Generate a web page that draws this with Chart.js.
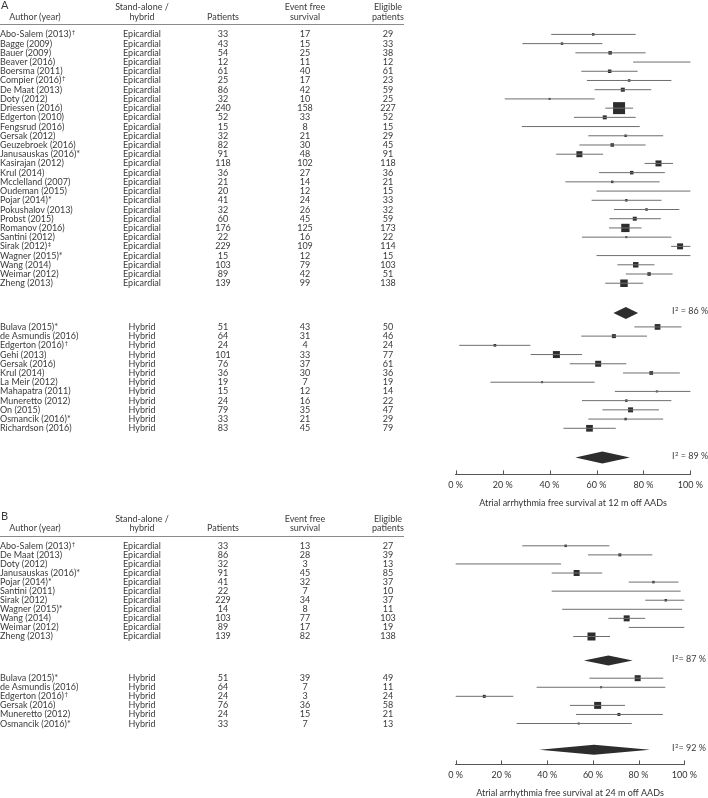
<!DOCTYPE html>
<html><head><meta charset="utf-8">
<script src="https://cdn.jsdelivr.net/npm/chart.js@4.4.1/dist/chart.umd.min.js"></script>
<style>
html,body{margin:0;padding:0;background:#fff;}
#page{position:relative;width:708px;height:798px;overflow:hidden;font-family:Lato,"Open Sans",sans-serif;color:#3a3a3a;}
.t{position:absolute;font-size:9px;line-height:10px;white-space:nowrap;transform:translateY(-50%);}
.c{transform:translate(-50%,-50%);text-align:center;}
.rule{position:absolute;height:0;border-top:1px solid #8a8a8a;}
.lab{position:absolute;font-size:11px;line-height:12px;transform:translateY(-50%);}
canvas{position:absolute;left:0;}
.sp{font-size:6px;display:inline-block;transform:translateY(-3px);margin-left:0.5px;}
</style></head>
<body><div id="page">
<canvas id="cA" width="708" height="508" style="top:0px"></canvas>
<canvas id="cB" width="708" height="288" style="top:510px"></canvas>
</div>
<script>
// ---------- Panel A: 12 months ----------
const A_epi_authors = ["Abo-Salem (2013)†","Bagge (2009)","Bauer (2009)","Beaver (2016)","Boersma (2011)","Compier (2016)†","De Maat (2013)","Doty (2012)","Driessen (2016)","Edgerton (2010)","Fengsrud (2016)","Gersak (2012)","Geuzebroek (2016)","Janusauskas (2016)*","Kasirajan (2012)","Krul (2014)","Mcclelland (2007)","Oudeman (2015)","Pojar (2014)*","Pokushalov (2013)","Probst (2015)","Romanov (2016)","Santini (2012)","Sirak (2012)‡","Wagner (2015)*","Wang (2014)","Weimar (2012)","Zheng (2013)"];
const A_epi_patients = [33,43,54,12,61,25,86,32,240,52,15,32,82,91,118,36,21,20,41,32,60,176,22,229,15,103,89,139];
const A_epi_events   = [17,15,25,11,40,17,42,10,158,33,8,21,30,48,102,27,14,12,24,26,45,125,16,109,12,79,42,99];
const A_epi_eligible = [29,33,38,12,61,23,59,25,227,52,15,29,45,91,118,36,21,15,33,32,59,173,22,114,15,103,51,138];
const A_epi_est = [58.6,45.3,65.8,91.7,65.6,73.9,71.2,40.0,69.6,63.5,53.3,72.4,66.7,52.7,86.4,75.0,66.7,80.0,72.7,81.3,76.3,72.3,72.7,95.6,80.0,76.7,82.4,71.7];
const A_epi_lo  = [40.7,28.4,51.0,75.6,53.5,55.9,59.2,20.9,63.7,50.4,28.2,56.5,52.7,42.8,80.5,61.1,46.7,60.0,57.9,67.4,65.5,65.3,53.8,91.8,60.0,68.9,72.5,63.7];
const A_epi_hi  = [76.7,62.5,80.9,100,77.5,91.9,83.3,59.2,75.6,76.7,78.4,88.4,80.9,62.8,92.6,89.1,86.9,100,87.7,95.3,87.4,79.2,91.9,100,100,84.7,92.4,79.9];
const A_epi_weight = [2.5,2.5,3.5,0,3.5,2.5,4,2,12,4,0,2.5,3.5,6,6,3.5,2.5,0,2.5,2.5,4,8.3,2,6,0,5.5,3.5,7.5];
const A_epi_pool = [72.5,67.2,77.7]; const A_epi_I2 = 86;

const A_hyb_authors = ["Bulava (2015)*","de Asmundis (2016)","Edgerton (2016)†","Gehi (2013)","Gersak (2016)","Krul (2014)","La Meir (2012)","Mahapatra (2011)","Muneretto (2012)","On (2015)","Osmancik (2016)*","Richardson (2016)"];
const A_hyb_patients = [51,64,24,101,76,36,19,15,24,79,33,83];
const A_hyb_events   = [43,31,4,33,37,30,7,12,16,35,21,45];
const A_hyb_eligible = [50,46,24,77,61,36,19,14,22,47,29,79];
const A_hyb_est = [86.0,67.4,16.7,42.9,60.7,83.3,36.8,85.7,72.7,74.5,72.4,57.0];
const A_hyb_lo  = [76.1,53.5,1.5,31.9,48.6,71.3,14.8,67.8,53.8,62.5,56.5,45.9];
const A_hyb_hi  = [96.2,81.5,31.8,53.8,72.7,95.5,59.2,100,91.9,86.6,88.4,68.2];
const A_hyb_weight = [5.7,4,2.7,7,6,3.7,2,2,2.5,5,2.5,6.7];
const A_hyb_pool = [62.5,51.0,74.2]; const A_hyb_I2 = 89;

// ---------- Panel B: 24 months ----------
const B_epi_authors = ["Abo-Salem (2013)†","De Maat (2013)","Doty (2012)","Janusauskas (2016)*","Pojar (2014)*","Santini (2011)","Sirak (2012)","Wagner (2015)*","Wang (2014)","Weimar (2012)","Zheng (2013)"];
const B_epi_patients = [33,86,32,91,41,22,229,14,103,89,139];
const B_epi_events   = [13,28,3,45,32,7,34,8,77,17,82];
const B_epi_eligible = [27,39,13,85,37,10,37,11,103,19,138];
const B_epi_est = [48.1,71.8,23.1,52.9,86.5,70.0,91.9,72.7,74.8,89.5,59.4];
const B_epi_lo  = [29.1,57.9,0,42.0,75.7,42.0,82.9,46.6,66.8,75.7,51.4];
const B_epi_hi  = [67.2,86.0,46.1,64.1,97.5,98.4,100,99.0,82.9,100,67.5];
const B_epi_weight = [2.5,3,0,6,2.5,0,2.5,0,6,0,8];
const B_epi_pool = [66.8,56.1,77.4]; const B_epi_I2 = 87;

const B_hyb_authors = ["Bulava (2015)*","de Asmundis (2016)","Edgerton (2016)†","Gersak (2016)","Muneretto (2012)","Osmancik (2016)*"];
const B_hyb_patients = [51,64,24,76,24,33];
const B_hyb_events   = [39,7,3,36,15,7];
const B_hyb_eligible = [49,11,24,58,21,13];
const B_hyb_est = [79.6,63.6,12.5,62.1,71.4,53.8];
const B_hyb_lo  = [58.5,35.4,0,50.0,52.6,26.7];
const B_hyb_hi  = [90.8,91.7,25.2,74.1,90.6,77.0];
const B_hyb_weight = [6,2,3,7,3,2];
const B_hyb_pool = [60.5,36.6,85.0]; const B_hyb_I2 = 92;

const xTicks = [0,20,40,60,80,100];
const headers = [["Stand-alone /","hybrid"],["","Patients"],["Event free","survival"],["Eligible","patients"]];

// ---------- layout (not data) ----------
const COLX = {author:0, group:142, patients:223, events:305, eligible:388};
const panels = [
 {id:'cA', top:0, label:'A', padTop:25, padRight:16.3, pitch:9.31, firstRowPx:34.5, diamondHalf:6,
  axisTitle:'Atrial arrhythmia free survival at 12 m off AADs', i2sep:' = ',
  groups:[
   {name:'Epicardial', authors:A_epi_authors, patients:A_epi_patients, events:A_epi_events, eligible:A_epi_eligible, est:A_epi_est, lo:A_epi_lo, hi:A_epi_hi, w:A_epi_weight, pool:A_epi_pool, i2:A_epi_I2, start:0, poolOffset:3.24},
   {name:'Hybrid', authors:A_hyb_authors, patients:A_hyb_patients, events:A_hyb_events, eligible:A_hyb_eligible, est:A_hyb_est, lo:A_hyb_lo, hi:A_hyb_hi, w:A_hyb_weight, pool:A_hyb_pool, i2:A_hyb_I2, start:31.74, poolOffset:3.18}
  ]},
 {id:'cB', top:510, label:'B', padTop:27, padRight:23.7, pitch:9.25, firstRowPx:36, diamondHalf:5,
  axisTitle:'Atrial arrhythmia free survival at 24 m off AADs', i2sep:'= ',
  groups:[
   {name:'Epicardial', authors:B_epi_authors, patients:B_epi_patients, events:B_epi_events, eligible:B_epi_eligible, est:B_epi_est, lo:B_epi_lo, hi:B_epi_hi, w:B_epi_weight, pool:B_epi_pool, i2:B_epi_I2, start:0, poolOffset:2.65},
   {name:'Hybrid', authors:B_hyb_authors, patients:B_hyb_patients, events:B_hyb_events, eligible:B_hyb_eligible, est:B_hyb_est, lo:B_hyb_lo, hi:B_hyb_hi, w:B_hyb_weight, pool:B_hyb_pool, i2:B_hyb_I2, start:14.6, poolOffset:2.9}
  ]}
];

Chart.defaults.font.family = 'Lato, "Open Sans", sans-serif';
Chart.defaults.color = '#333';
const page = document.getElementById('page');

function addText(html, x, y, cls) {
  const d = document.createElement('div');
  d.className = cls; d.style.left = x + 'px'; d.style.top = y + 'px';
  d.innerHTML = html; page.appendChild(d); return d;
}
function fmtAuthor(s){ return s.replace(/([†‡])$/, '<span class="sp">$1</span>'); }

panels.forEach(p => {
  const canvas = document.getElementById(p.id);
  const H = canvas.height;
  const lineData = [], sqData = [], sqR = [], pools = [];
  p.groups.forEach(g => {
    g.rows = g.est.map((_, i) => g.start + i);
    g.poolRow = g.rows[g.rows.length-1] + g.poolOffset;
    g.est.forEach((e, i) => {
      lineData.push({x:g.lo[i], y:g.rows[i]}, {x:g.hi[i], y:g.rows[i]}, {x:null, y:null});
      sqData.push({x:e, y:g.rows[i]});
      sqR.push(g.w[i] / Math.SQRT2);
    });
    pools.push({est:g.pool[0], lo:g.pool[1], hi:g.pool[2], row:g.poolRow});
  });
  const areaH = H - p.padTop - 29;
  const yMin = -(p.firstRowPx - p.padTop) / p.pitch;
  const yMax = yMin + areaH / p.pitch;

  const diamondPlugin = {
    id:'diamonds',
    afterDatasetsDraw(chart){
      const ctx = chart.ctx, xs = chart.scales.x, ys = chart.scales.y;
      ctx.save(); ctx.fillStyle = '#2d2d2d';
      pools.forEach(d => {
        const y = ys.getPixelForValue(d.row);
        const xl = xs.getPixelForValue(d.lo), xc = xs.getPixelForValue(d.est), xr = xs.getPixelForValue(d.hi);
        ctx.beginPath(); ctx.moveTo(xl, y); ctx.lineTo(xc, y - p.diamondHalf);
        ctx.lineTo(xr, y); ctx.lineTo(xc, y + p.diamondHalf); ctx.closePath(); ctx.fill();
      });
      const b = chart.chartArea.bottom;
      ctx.strokeStyle = '#555'; ctx.lineWidth = 1;
      xs.ticks.forEach(t => {
        const x = Math.round(xs.getPixelForValue(t.value)) + 0.5;
        ctx.beginPath(); ctx.moveTo(x, b); ctx.lineTo(x, b - 4); ctx.stroke();
      });
      ctx.restore();
    }
  };

  const chart = new Chart(canvas, {
    type:'scatter',
    data:{datasets:[
      {data:lineData, showLine:true, spanGaps:false, borderColor:'#6e6e6e', borderWidth:1, pointRadius:0, pointHoverRadius:0, clip:false},
      {data:sqData, pointStyle:'rect', pointRadius:sqR, pointHoverRadius:sqR, backgroundColor:'#2d2d2d', borderWidth:0, clip:false}
    ]},
    options:{
      responsive:false, animation:false, events:[],
      layout:{padding:{left:455.7, right:p.padRight, top:p.padTop, bottom:0}},
      plugins:{legend:{display:false}, tooltip:{enabled:false}},
      scales:{
        x:{type:'linear', min:0, max:100, afterBuildTicks(s){ s.ticks = xTicks.map(v => ({value:v})); },
           ticks:{callback:v => v + ' %', font:{size:9}, color:'#333', padding:5, maxRotation:0},
           grid:{drawOnChartArea:false, drawTicks:false},
           border:{display:true, color:'#555', width:1},
           title:{display:true, text:p.axisTitle, font:{size:9}, color:'#333', padding:{top:2, bottom:0}}},
        y:{type:'linear', display:false, reverse:true, min:yMin, max:yMax}
      }
    },
    plugins:[diamondPlugin]
  });

  const ys = chart.scales.y;
  const py = v => ys.getPixelForValue(v) + p.top;
  const y0 = py(0);
  addText(p.label, 1, y0 - 29.5, 'lab');
  addText('Author (year)', 35, y0 - 17.5, 't c');
  headers.forEach((h, k) => {
    const cx = [COLX.group, COLX.patients, COLX.events, COLX.eligible][k];
    if (h[0]) addText(h[0], cx, y0 - 27, 't c');
    addText(h[1], cx, y0 - 17.5, 't c');
  });
  const r = document.createElement('div'); r.className = 'rule';
  r.style.left = '0px'; r.style.width = '404px'; r.style.top = Math.round(y0 - 10) + 'px'; page.appendChild(r);

  p.groups.forEach(g => {
    g.rows.forEach((row, i) => {
      const y = py(row);
      addText(fmtAuthor(g.authors[i]), COLX.author, y, 't');
      addText(g.name, COLX.group, y, 't c');
      addText(String(g.patients[i]), COLX.patients, y, 't c');
      addText(String(g.events[i]), COLX.events, y, 't c');
      addText(String(g.eligible[i]), COLX.eligible, y, 't c');
    });
    addText('I<span class="sp">2</span>' + p.i2sep + g.i2 + ' %', 672, py(g.poolRow) - 2, 't');
  });
});
</script>
</body></html>
